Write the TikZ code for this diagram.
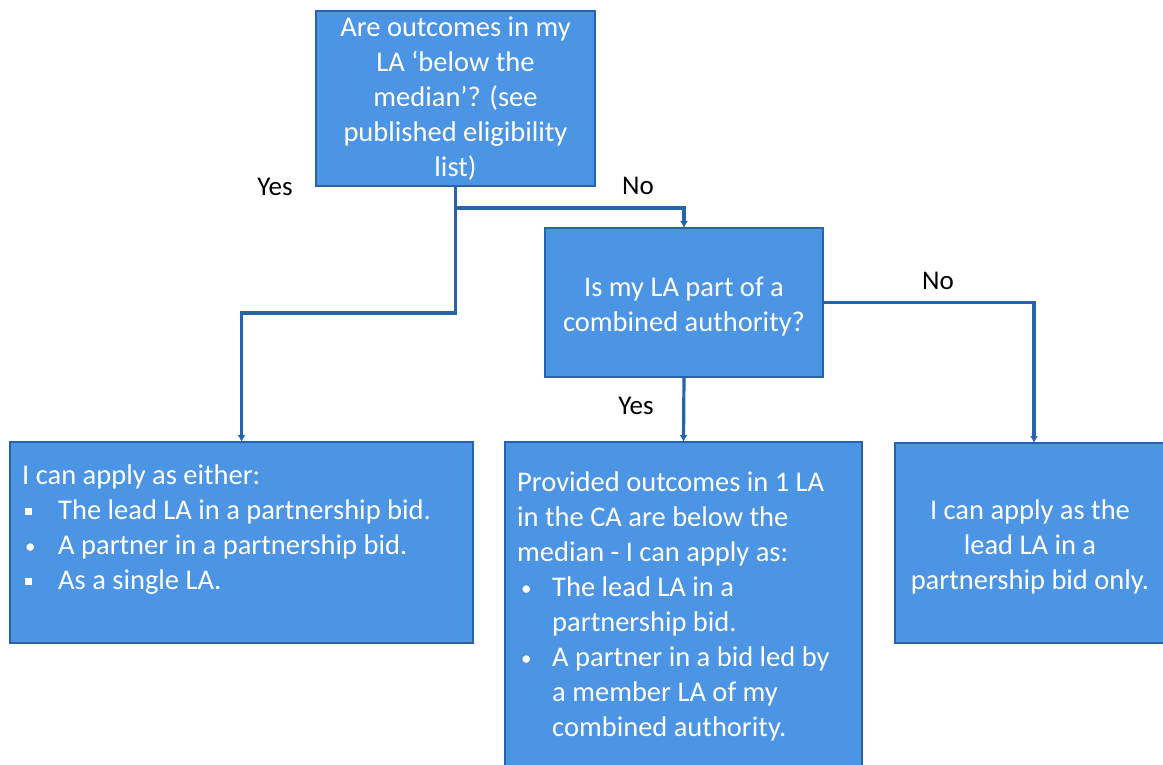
\documentclass[tikz,border=0pt]{standalone}
\usepackage{fontspec}
\setmainfont{Carlito}
\usetikzlibrary{arrows.meta}
\definecolor{boxfill}{RGB}{76,148,228}
\definecolor{boxline}{RGB}{40,98,170}
\definecolor{connline}{RGB}{40,100,172}
\newcommand{\sqbul}{\makebox[36pt][l]{\hspace{3pt}\rule[5pt]{6.5pt}{6.5pt}}}
\newcommand{\smallbul}{{\fontsize{21}{21}\selectfont\raisebox{1.5pt}{•}}}
\newcommand{\rdbulL}{\makebox[36pt][l]{\hspace{3pt}\smallbul}}
\newcommand{\rdbulM}{\makebox[35pt][l]{\hspace{4pt}\smallbul}}
\newcommand{\indM}{\hspace*{35pt}}
\begin{document}
\begin{tikzpicture}[x=1pt,y=-1pt,
  boxstyle/.style={draw=boxline, line width=1.6pt, fill=boxfill, inner sep=0pt, outer sep=0pt},
  boxtext/.style={text=white, inner sep=0pt, font=\fontsize{28.5}{35}\selectfont},
  lbl/.style={text=black, inner sep=0pt, font=\fontsize{27}{32}\selectfont},
  conn/.style={draw=connline, line width=3.2pt, -{Latex[length=7pt,width=8pt]}}
]
\useasboundingbox (0,0) rectangle (1163,765);
% boxes
\node[boxstyle, minimum width=279pt, minimum height=175pt] (q1) at (455.5,98.5) {};
\node[boxstyle, minimum width=278pt, minimum height=149pt] (q2) at (684,302.5) {};
\node[boxstyle, minimum width=463pt, minimum height=201pt] (lbox) at (241.5,542.5) {};
\node[boxstyle, minimum width=357pt, minimum height=340pt] (mbox) at (683.5,612) {};
\node[boxstyle, minimum width=278pt, minimum height=200pt] (rbox) at (1034,543) {};
% texts
\node[boxtext, align=center] (q1t) at (455.5,99) {Are outcomes in my\\LA ‘below the\\median’? (see\\published eligibility\\list)};
\node[boxtext, align=center] (q2t) at (684,307) {Is my LA part of a\\combined authority?};
\node[boxtext, align=left, anchor=north west] (lboxt) at (22,465) {I can apply as either:\\\sqbul The lead LA in a partnership bid.\\\rdbulL A partner in a partnership bid.\\\sqbul As a single LA.};
\node[boxtext, align=left, anchor=north west] (mboxt) at (517,472) {Provided outcomes in 1 LA\\in the CA are below the\\median - I can apply as:\\\rdbulM The lead LA in a\\\indM partnership bid.\\\rdbulM A partner in a bid led by\\\indM a member LA of my\\\indM combined authority.};
\node[boxtext, align=center] (rboxt) at (1030,547) {I can apply as the\\lead LA in a\\partnership bid only.};
% junctions
\coordinate (j1) at (455.5,208);
\coordinate (j2) at (455.5,313);
% connectors
\draw[conn] (q1.south) -- (j1) -| (q2.north);
\draw[conn] (q1.south) -- (j2) -| (lbox.north);
\draw[conn] (q2.south) -- (mbox.north);
\draw[conn] (q2.east) -| (rbox.north);
% labels
\node[lbl] (yes1) at (275,187) {Yes};
\node[lbl] (no1) at (638,186) {No};
\node[lbl] (no2) at (938,281) {No};
\node[lbl] (yes2) at (636,406) {Yes};
\end{tikzpicture}
\end{document}
